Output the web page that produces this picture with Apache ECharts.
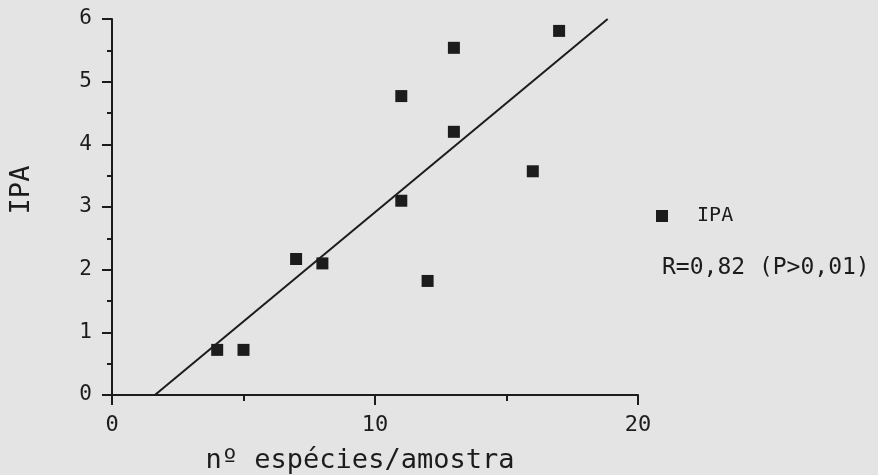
<!DOCTYPE html>
<html>
<head>
<meta charset="utf-8">
<script src="https://cdn.jsdelivr.net/npm/echarts@6/dist/echarts.min.js"></script>
<style>
  html, body { margin: 0; padding: 0; background: #e4e4e4; }
  #chart { width: 878px; height: 475px; }
</style>
</head>
<body>
<div id="chart"></div>
<script>
// Species richness per sample against IPA index
const speciesPerSample = [4, 5, 7, 8, 11, 11, 12, 13, 13, 16, 17];
const ipaValues = [0.72, 0.72, 2.17, 2.10, 3.10, 4.77, 1.82, 4.20, 5.54, 3.57, 5.81];
const xTicks = [0, 10, 20];
const yTicks = [0, 1, 2, 3, 4, 5, 6];
const seriesName = 'IPA';
const statsText = 'R=0,82 (P>0,01)';
const xTitle = 'nº espécies/amostra';
const yTitle = 'IPA';

const points = speciesPerSample.map((x, i) => [x, ipaValues[i]]);

// Least-squares fit through the points, drawn between IPA = 0 and IPA = 6
const n = points.length;
const mx = speciesPerSample.reduce((a, b) => a + b, 0) / n;
const my = ipaValues.reduce((a, b) => a + b, 0) / n;
let sxy = 0, sxx = 0;
points.forEach(([x, y]) => { sxy += (x - mx) * (y - my); sxx += (x - mx) * (x - mx); });
const slope = sxy / sxx;
const intercept = my - slope * mx;
const yLow = yTicks[0], yHigh = yTicks[yTicks.length - 1];
const fitLine = [[(yLow - intercept) / slope, yLow], [(yHigh - intercept) / slope, yHigh]];

const ink = '#1c1c1c';
const font = '"DejaVu Sans Mono", monospace';

const chart = echarts.init(document.getElementById('chart'));
chart.setOption({
  animation: false,
  backgroundColor: '#e4e4e4',
  grid: { left: 112, right: 240, top: 19, bottom: 80 },
  xAxis: {
    type: 'value',
    min: xTicks[0], max: xTicks[xTicks.length - 1], interval: 10,
    splitLine: { show: false },
    axisLine: { show: true, onZero: false, lineStyle: { color: ink, width: 2 } },
    axisTick: { show: true, length: 10, lineStyle: { color: ink, width: 2 } },
    minorTick: { show: true, splitNumber: 2, length: 6, lineStyle: { color: ink, width: 2 } },
    axisLabel: { color: ink, fontFamily: font, fontSize: 22, margin: 19 }
  },
  yAxis: {
    type: 'value',
    min: yTicks[0], max: yTicks[yTicks.length - 1], interval: 1,
    splitLine: { show: false },
    axisLine: { show: true, onZero: false, lineStyle: { color: ink, width: 2 } },
    axisTick: { show: true, length: 10, lineStyle: { color: ink, width: 2 } },
    minorTick: { show: true, splitNumber: 2, length: 5, lineStyle: { color: ink, width: 2 } },
    axisLabel: { color: ink, fontFamily: font, fontSize: 21, margin: 20 }
  },
  legend: {
    data: [{ name: seriesName, icon: 'rect' }],
    left: 651, top: 201,
    itemWidth: 12, itemHeight: 12,
    formatter: '  {name}',
    textStyle: { color: ink, fontFamily: font, fontSize: 20 }
  },
  series: [
    {
      name: seriesName,
      type: 'scatter',
      data: points,
      symbol: 'rect',
      symbolSize: 12,
      itemStyle: { color: ink, opacity: 1 }
    },
    {
      name: 'ajuste',
      type: 'line',
      data: fitLine,
      symbol: 'none',
      silent: true,
      lineStyle: { color: ink, width: 2 }
    }
  ],
  graphic: [
    {
      type: 'text',
      left: 662, top: 257,
      style: { text: statsText, fill: ink, font: '23px ' + font }
    },
    {
      type: 'text',
      x: 360, y: 461,
      style: { text: xTitle, fill: ink, font: '27px ' + font, align: 'center', verticalAlign: 'middle' }
    },
    {
      type: 'text',
      x: 22, y: 190, rotation: Math.PI / 2,
      style: { text: yTitle, fill: ink, font: '27px ' + font, align: 'center', verticalAlign: 'middle' }
    }
  ]
});
</script>
</body>
</html>
